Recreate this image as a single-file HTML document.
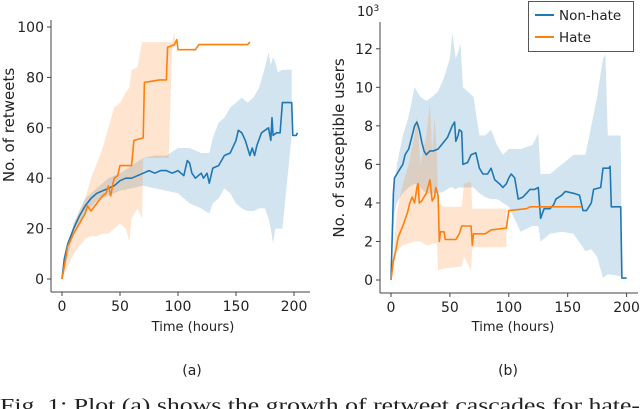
<!DOCTYPE html>
<html><head><meta charset="utf-8"><style>
html,body{margin:0;padding:0;background:#fff;overflow:hidden}
svg{display:block}
text{font-family:"DejaVu Sans","Liberation Sans",sans-serif;fill:#222}
</style></head><body>
<svg id="fig" width="640" height="409" viewBox="0 0 640 409" xmlns="http://www.w3.org/2000/svg">
<g id="pa"></g>
<g id="pb"></g>
<text x="192" y="375" font-size="14" text-anchor="middle">(a)</text>
<text x="508" y="375" font-size="14" text-anchor="middle">(b)</text>
<text x="0" y="412" font-size="20" textLength="640" lengthAdjust="spacingAndGlyphs" style="font-family:'Liberation Serif',serif">Fig. 1: Plot (a) shows the growth of retweet cascades for hate-</text>
<g>
<rect x="528.5" y="1.5" width="105" height="50" fill="#fff" stroke="#555" stroke-width="1"/>
<line x1="535" y1="15" x2="554" y2="15" stroke="#1f77b4" stroke-width="2"/>
<text x="559" y="20" font-size="13.5">Non-hate</text>
<line x1="535" y1="37" x2="554" y2="37" stroke="#ff7f0e" stroke-width="2"/>
<text x="559" y="42" font-size="13.5">Hate</text>
</g>
</svg>
<script>
// ---- Plot (a) data ----
const aBlueT=[0,2,5,10,15,20,25,30,35,40,45,50,55,60,65,70,75,80,85,90,95,100,105,108,110,112,115,120,122,125,127,130,135,140,145,150,152,155,158,160,162,164,166,168,172,178,180,181,182,185,188,190,198,199,202,203];
const aBlueV=[0,8,14,20,25,29,32,34,35,36,37,39,40,40,41,42,43,42,43,43,42,43,41,47,46,42,40,42,40,42,38,44,45,49,50,55,59,58,55,52,49,52,49,53,58,60,55,64,57,58,58,70,70,57,57,58];
const aBlueBandT=[0,10,20,30,40,50,60,70,80,90,100,110,120,127,130,135,140,145,150,155,160,165,170,175,178,180,182,184,186,190,198];
const aBlueHi=[0,22,32,36,40,42,45,48,49,49,52,52,50,50,56,62,64,68,70,72,70,72,76,84,90,85,88,86,82,83,83];
const aBlueLo=[0,18,26,31,33,35,36,37,36,35,34,30,28,26,30,32,36,34,30,28,27,27,28,28,24,20,14,20,20,20,57];
const aOrT=[0,5,10,15,20,22,25,30,35,38,40,42,44,45,48,50,60,62,70,71,84,90,91,97,99,100,108,115,118,160,162];
const aOrV=[0,13,18,22,26,29,27,30,33,34,37,33,38,40,41,45,45,55,56,78,79,79,92,93,95,91,91,91,93,93,94];
const aOrBandT=[0,10,20,25,30,35,40,45,50,55,58,60,65,69,70,90,92,95,97,98];
const aOrHi=[0,22,32,40,46,52,60,68,70,74,76,83,84,94,94,94,94,94,98,92];
const aOrLo=[0,10,16,17,17,18,18,20,22,20,15,24,28,24,48,48,48,92,92,92];
const aYTicks=[0,20,40,60,80,100];
const xTicks=[0,50,100,150,200];
// ---- Plot (b) data (thousands) ----
const bBlueT=[0,2,3,5,8,10,12,15,18,20,22,24,26,28,30,33,36,40,44,48,52,54,55,57,58,60,61,65,68,72,75,78,82,85,88,92,95,98,100,102,105,108,112,115,118,122,125,127,130,135,138,140,145,148,155,160,163,166,170,172,178,180,185,186,187,195,196,200];
const bBlueV=[0,4.5,5.3,5.5,5.8,6,6.5,6.8,7.5,8,8.2,7.8,7.2,6.7,6.5,6.7,6.7,6.8,7.1,7.4,8,8.2,7.2,7.5,7.8,7.7,6.0,6.1,6.5,6.6,5.8,5.5,5.5,5.8,5.2,5.0,4.8,5.0,5.3,5.5,5.3,4.2,4.3,4.5,4.7,4.7,4.8,3.2,3.7,3.7,3.9,4.2,4.4,4.6,4.5,4.4,3.6,3.6,4.0,4.7,4.8,5.8,5.8,5.9,3.8,3.8,0.1,0.1];
const bBlueBandT=[0,3,5,10,15,20,25,30,35,40,45,50,52,55,57,59,61,65,70,75,80,85,90,95,100,110,120,125,127,135,145,155,165,170,175,180,182,184,195,196];
const bBlueHi=[0,5,6,7.5,8.5,10,9.5,9.3,9.5,9.8,10.5,11.5,12.8,11.5,11.8,12.3,10,9.8,9.5,7.5,7.5,7.8,7,6.5,6.8,6.8,7,7.6,5.5,5.5,6,6.5,6.5,8,9.5,11.5,11.7,7.5,7.5,0];
const bBlueLo=[0,3.5,4,4.5,4.8,5,4.8,4.5,4.5,4.5,4.6,4.8,4.8,4.7,4.8,4.8,4.8,4.8,4.8,4.5,4.3,4.2,4.2,4,3.8,2.5,2.8,2.8,2.0,2.4,2.5,2.4,1.5,1.6,1.2,0.1,0.2,0.3,0.2,0];
const bOrT=[0,2,4,6,8,10,14,16,18,20,22,23,24,26,28,30,33,35,37,38,40,41,42,45,46,55,58,60,68,69,70,80,85,98,100,115,118,162];
const bOrV=[0,1,1.5,2.2,2.5,2.8,3.5,4,4.3,4.0,4.8,5.0,4.0,4.1,4.3,4.5,5.2,4.1,4.3,4.8,4.4,2.0,2.5,2.5,2.1,2.1,2.4,2.8,2.8,1.8,2.4,2.4,2.6,2.7,3.6,3.7,3.8,3.8];
const bOrBandT=[0,5,10,15,20,22,25,30,33,35,37,39,40,45,60,62,68,69,98];
const bOrHi=[0,3.5,5,6,7.5,8.5,6,7.5,9.2,6.5,8.5,6.5,4.0,3.8,3.8,5,5.1,3.7,3.7];
const bOrLo=[0,1.5,1.8,1.9,2,2,2,1.8,1.8,1.9,1.9,1.9,0.5,0.6,0.7,1.2,0.5,1.7,1.7];
const bYTicks=[0,2,4,6,8,10,12];

const NS="http://www.w3.org/2000/svg";
function mk(parent,tag,attrs){const e=document.createElementNS(NS,tag);for(const k in attrs)e.setAttribute(k,attrs[k]);parent.appendChild(e);return e;}
function line(T,V,sx,sy){return T.map((t,i)=>sx(t).toFixed(1)+","+sy(V[i]).toFixed(1)).join(" ");}
function band(T,H,L,sx,sy){const up=T.map((t,i)=>sx(t).toFixed(1)+","+sy(H[i]).toFixed(1));const lo=T.map((t,i)=>sx(t).toFixed(1)+","+sy(L[i]).toFixed(1)).reverse();return up.concat(lo).join(" ");}

function drawPlot(g,o){
  const sx=t=>o.x0+t*o.kx, sy=v=>o.y0-v*o.ky;
  let e;
  e=mk(g,"polygon",{points:band(o.bbT,o.bbH,o.bbL,sx,sy),fill:"#1f77b4","fill-opacity":0.2});
  
  
  e=mk(g,"polygon",{points:band(o.obT,o.obH,o.obL,sx,sy),fill:"#ff7f0e","fill-opacity":0.2});
  
  
  e=mk(g,"polyline",{points:line(o.bT,o.bV,sx,sy),fill:"none",stroke:"#1f77b4","stroke-width":1.6,"stroke-linejoin":"round"});
  
  
  e=mk(g,"polyline",{points:line(o.oT,o.oV,sx,sy),fill:"none",stroke:"#ff7f0e","stroke-width":1.6,"stroke-linejoin":"round"});
  
  
  e=mk(g,"line",{x1:o.ax,y1:o.top,x2:o.ax,y2:o.ay,stroke:"#444","stroke-width":1});
  
  
  e=mk(g,"line",{x1:o.ax,y1:o.ay,x2:o.right,y2:o.ay,stroke:"#444","stroke-width":1});
  
  
  o.yT.forEach(v=>{
    const y=sy(v);
    e=mk(g,"line",{x1:o.ax-4,y1:y,x2:o.ax,y2:y,stroke:"#444"});
    
    
    e=mk(g,"text",{x:o.ax-7,y:y+5,"font-size":14,"text-anchor":"end"});e.textContent=v;
    
    
  });
  xTicks.forEach(t=>{
    const x=sx(t);
    e=mk(g,"line",{x1:x,y1:o.ay,x2:x,y2:o.ay+4,stroke:"#444"});
    
    
    e=mk(g,"text",{x:x,y:o.ay+19,"font-size":14,"text-anchor":"middle"});e.textContent=t;
    
    
  });
  e=mk(g,"text",{x:o.xtx,y:331,"font-size":13,"text-anchor":"middle"});e.textContent="Time (hours)";
  
  
  e=mk(g,"text",{x:0,y:0,"font-size":15,"text-anchor":"middle",transform:`translate(${o.ytx},${o.yty}) rotate(-90)`});e.textContent=o.ytitle;
  
  
}
drawPlot(document.getElementById("pa"),{x0:62,kx:1.16,y0:279,ky:2.52,ax:51,ay:292,top:20,right:310,yT:aYTicks,xtx:193,ytx:14,yty:125,ytitle:"No. of retweets",
  bT:aBlueT,bV:aBlueV,bbT:aBlueBandT,bbH:aBlueHi,bbL:aBlueLo,oT:aOrT,oV:aOrV,obT:aOrBandT,obH:aOrHi,obL:aOrLo});
drawPlot(document.getElementById("pb"),{x0:391,kx:1.178,y0:280,ky:19.27,ax:380,ay:293,top:22,right:638,yT:bYTicks,xtx:513,ytx:344,yty:148,ytitle:"No. of susceptible users",
  bT:bBlueT,bV:bBlueV,bbT:bBlueBandT,bbH:bBlueHi,bbL:bBlueLo,oT:bOrT,oV:bOrV,obT:bOrBandT,obH:bOrHi,obL:bOrLo});
const pb=document.getElementById("pb");
const ex=mk(pb,"text",{x:357,y:16,"font-size":13});ex.innerHTML='10<tspan dy="-5" font-size="9">3</tspan>';


</script>
</body></html>
